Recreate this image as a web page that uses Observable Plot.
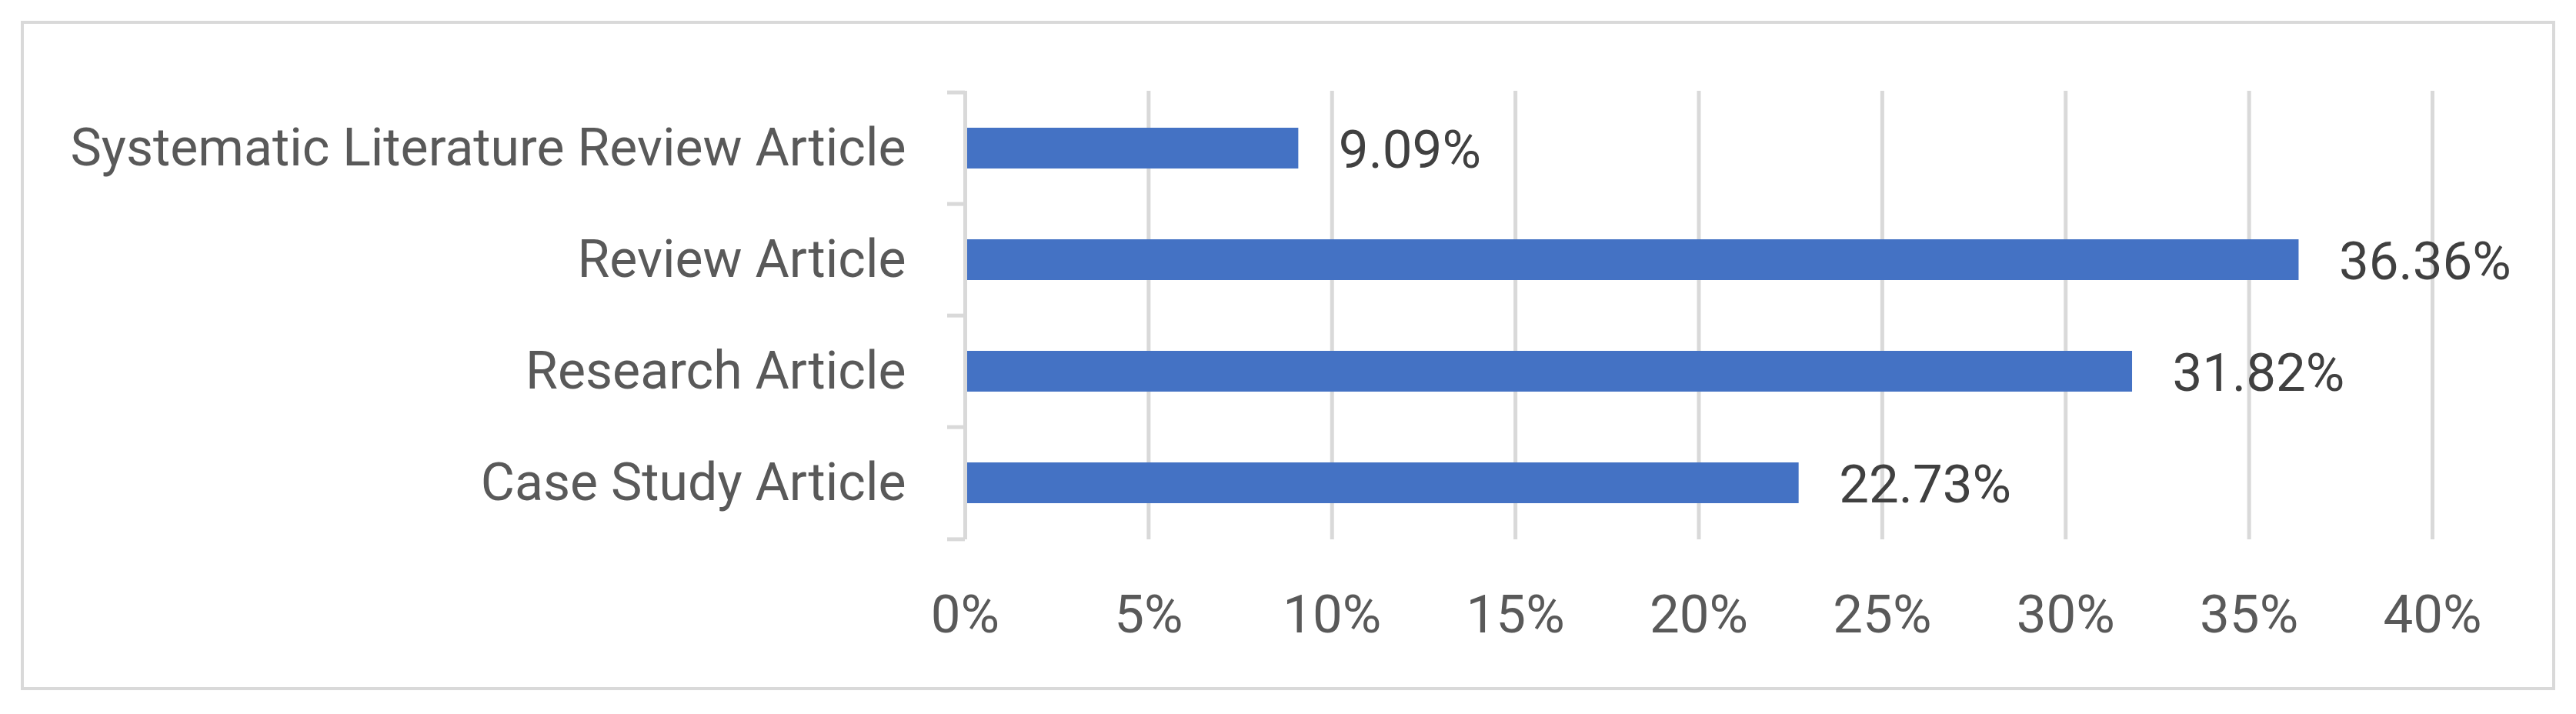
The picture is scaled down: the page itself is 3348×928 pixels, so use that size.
<!DOCTYPE html>
<html><head><meta charset="utf-8">
<script src="https://cdn.jsdelivr.net/npm/d3@7"></script>
<script src="https://cdn.jsdelivr.net/npm/@observablehq/plot@0.6"></script>
<style>
html,body{margin:0;padding:0;background:#fff;}
#wrap{position:relative;width:3348px;height:928px;overflow:hidden;background:#fff;}
#wrap svg{position:absolute;left:0;top:0;}
#border{position:absolute;left:27px;top:27px;width:3286px;height:862px;border:4px solid #d9d9d9;}
</style></head><body><div id="wrap"><div id="border"></div></div>
<script>
const categories = ["Systematic Literature Review Article", "Review Article", "Research Article", "Case Study Article"];
const shares = [9.09, 36.36, 31.82, 22.73];
const xTicks = [0, 5, 10, 15, 20, 25, 30, 35, 40];

const data = categories.map((c, i) => ({category: c, share: shares[i]}));
const pct = d => d + "%";
const halfStep = 583 / categories.length / 2;

const chart = Plot.plot({
  width: 3348, height: 928,
  marginLeft: 1254, marginRight: 187, marginTop: 118, marginBottom: 227,
  style: {fontFamily: "Roboto", fontSize: "68px", background: "transparent", color: "#595959"},
  x: {domain: [0, 40], ticks: xTicks, tickFormat: pct, label: null},
  y: {domain: categories, paddingInner: 0.636, paddingOuter: 0.318, label: null},
  marks: [
    Plot.gridX(xTicks, {stroke: "#d9d9d9", strokeOpacity: 1, strokeWidth: 5}),
    Plot.axisX(xTicks, {tickSize: 0, tickPadding: 71, fill: "#595959", fontSize: 69, tickFormat: pct, label: null}),
    Plot.axisY({tickSize: 0, tickPadding: 77, fill: "#595959", fontSize: 68, label: null}),
    Plot.barX(data, {x: "share", y: "category", fill: "#4472c4"}),
    Plot.ruleX([0], {stroke: "#d9d9d9", strokeWidth: 5}),
    Plot.ruleY(categories, {y: d => d, x1: 0, x2: 0, insetLeft: -23, dy: -halfStep, stroke: "#d9d9d9", strokeWidth: 5}),
    Plot.ruleY(categories.slice(-1), {y: d => d, x1: 0, x2: 0, insetLeft: -23, dy: halfStep, stroke: "#d9d9d9", strokeWidth: 5}),
    Plot.text(data, {x: "share", y: "category", text: d => d.share.toFixed(2) + "%", textAnchor: "start", dx: 52, dy: 3, fill: "#404040", fontSize: 69})
  ]
});
document.getElementById("wrap").appendChild(chart);
</script>
</body></html>
